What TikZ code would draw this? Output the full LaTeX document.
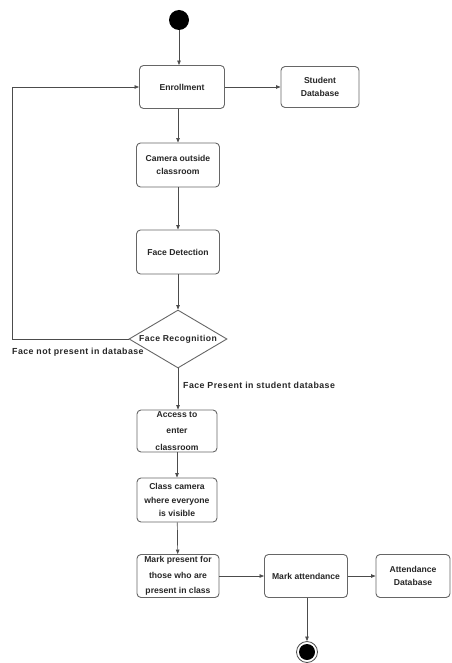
\documentclass[tikz,border=0pt]{standalone}
\usepackage{fontspec}
\setmainfont{Liberation Sans}
\newfontfamily\widefont[LetterSpace=5]{Liberation Sans}
\usetikzlibrary{shapes.geometric,arrows.meta}
\begin{document}
\begin{tikzpicture}[x=1pt,y=-1pt,
  every node/.style={font=\fontsize{8.6}{13.5}\selectfont\bfseries, text=black!85},
  act/.style={draw=black!60, line width=0.9pt, rounded corners=4pt, align=center,
    minimum height=43pt, inner sep=0pt},
  dec/.style={draw=black!60, line width=0.9pt, diamond, aspect=1.7, inner sep=0pt,
    minimum width=98pt, minimum height=58pt},
  flow/.style={draw=black!70, line width=0.7pt, -{Triangle[length=4.5pt,width=3.5pt]}},
  lbl/.style={font=\widefont\fontsize{8.8}{10}\selectfont\bfseries}]
\useasboundingbox (0,0) rectangle (451,663);
% start and end states
\node (start) [circle, fill=black, minimum size=20pt, inner sep=0pt] at (179,20) {};
\node (stop) [circle, draw=black!70, line width=0.8pt, minimum size=21pt, inner sep=0pt] at (307,652) {};
\node (stopdot) [circle, fill=black, minimum size=16pt, inner sep=0pt] at (307,652) {};
% activities
\node (enrol) [act, minimum width=85pt] at (182,87) {Enrollment};
\node (sdb) [act, minimum width=78pt, minimum height=41pt] at (320,87) {Student\\Database};
\node (cam) [act, minimum width=83pt, minimum height=44pt] at (178,165) {Camera outside\\classroom};
\node (fd) [act, minimum width=83pt, minimum height=44pt] at (178,252) {Face Detection};
\node (fr) [dec] at (178,339) {};
\node (frtext) [font=\widefont\fontsize{8.6}{10}\selectfont\bfseries] at (178,339) {Face Recognition};
\node (acc) [act, minimum width=80pt, minimum height=42pt,
  font=\fontsize{8.6}{16.5}\selectfont\bfseries] at (177,431) {Access to\\enter\\classroom};
\node (ccam) [act, minimum width=80pt, minimum height=44pt] at (177,500) {Class camera\\where everyone\\is visible};
\node (mp) [act, minimum width=82pt, minimum height=43pt,
  font=\fontsize{8.6}{15.5}\selectfont\bfseries] at (178,576) {Mark present for\\those who are\\present in class};
\node (ma) [act, minimum width=83pt, minimum height=43pt] at (306,576) {Mark attendance};
\node (adb) [act, minimum width=74pt, minimum height=43pt] at (413,576) {Attendance\\Database};
% labels on the decision branches
\node (nolbl) [lbl, anchor=west, inner sep=0pt] at (12,352) {Face not present in database};
\node (yeslbl) [lbl, anchor=west, inner sep=0pt] at (183,385) {Face Present in student database};
% flows
\coordinate (loopbl) at (12,339);
\coordinate (looptl) at (12,87);
\draw[flow] (start) -- (start |- enrol.north);
\draw[flow] (enrol) -- (sdb);
\draw[flow] (enrol.south -| cam.north) -- (cam);
\draw[flow] (cam) -- (fd);
\draw[flow] (fd) -- (fr.north);
\draw[flow] (fr.west) -- (loopbl) -- (looptl) -- (enrol.west);
\draw[flow] (fr.south) -- (fr.south |- acc.north);
\draw[flow] (acc) -- (ccam);
\draw[flow] (ccam) -- (mp);
\draw[flow] (mp) -- (ma);
\draw[flow] (ma) -- (adb);
\draw[flow] (ma.south -| stop.north) -- (stop.north);
\end{tikzpicture}
\end{document}
